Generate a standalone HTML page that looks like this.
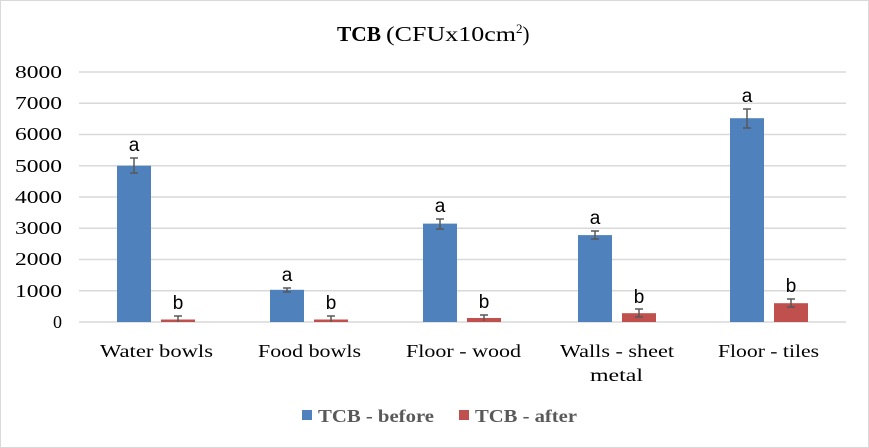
<!DOCTYPE html>
<html><head><style>body{margin:0;background:#fff}svg{display:block}</style></head><body>
<svg width="869" height="448" xmlns="http://www.w3.org/2000/svg">
<rect x="0.5" y="0.5" width="868" height="447" fill="#fff" stroke="#d9d9d9"/>
<text x="337" y="41" font-family="Liberation Serif, serif" font-size="21" fill="#000"><tspan font-weight="bold" textLength="44" lengthAdjust="spacingAndGlyphs">TCB</tspan><tspan x="386" textLength="130" lengthAdjust="spacingAndGlyphs">(CFUx10cm</tspan><tspan font-size="13" dy="-8">2</tspan><tspan dy="8">)</tspan></text>
<g stroke="#d9d9d9" stroke-width="1.5">
<line x1="79" x2="846" y1="72" y2="72"/><line x1="79" x2="846" y1="103.25" y2="103.25"/><line x1="79" x2="846" y1="134.5" y2="134.5"/><line x1="79" x2="846" y1="165.75" y2="165.75"/><line x1="79" x2="846" y1="197" y2="197"/><line x1="79" x2="846" y1="228.25" y2="228.25"/><line x1="79" x2="846" y1="259.5" y2="259.5"/><line x1="79" x2="846" y1="290.75" y2="290.75"/><line x1="79" x2="846" y1="322" y2="322"/>
</g>
<g font-family="Liberation Serif, serif" font-size="18" fill="#000" text-anchor="end">
<text x="62" y="78" textLength="47" lengthAdjust="spacingAndGlyphs">8000</text><text x="62" y="109" textLength="47" lengthAdjust="spacingAndGlyphs">7000</text><text x="62" y="140" textLength="47" lengthAdjust="spacingAndGlyphs">6000</text><text x="62" y="172" textLength="47" lengthAdjust="spacingAndGlyphs">5000</text><text x="62" y="203" textLength="47" lengthAdjust="spacingAndGlyphs">4000</text><text x="62" y="234" textLength="47" lengthAdjust="spacingAndGlyphs">3000</text><text x="62" y="265" textLength="47" lengthAdjust="spacingAndGlyphs">2000</text><text x="62" y="297" textLength="47" lengthAdjust="spacingAndGlyphs">1000</text><text x="62" y="328">0</text>
</g>
<g fill="#4f81bd">
<rect x="117" y="165.75" width="34" height="156.25"/>
<rect x="270" y="289.8" width="34" height="32.2"/>
<rect x="423" y="223.6" width="34" height="98.4"/>
<rect x="578" y="235.1" width="34" height="86.9"/>
<rect x="730" y="118.2" width="34" height="203.8"/>
</g>
<g fill="#c0504d">
<rect x="161" y="319.5" width="34" height="2.5"/>
<rect x="314" y="319.5" width="34" height="2.5"/>
<rect x="467" y="318" width="34" height="4"/>
<rect x="622" y="313.2" width="34" height="8.8"/>
<rect x="774" y="303.2" width="34" height="18.8"/>
</g>
<g stroke="#595959" stroke-width="1.5" fill="none">
<path d="M134 158v15M130 158h8M130 173h8"/>
<path d="M287 288v4M283 288h8M283 292h8"/>
<path d="M440 219v10M436 219h8M436 229h8"/>
<path d="M595 231v8M591 231h8M591 239h8"/>
<path d="M747 109v19M743 109h8M743 128h8"/>
<path d="M178 316v6M174 316h8"/>
<path d="M331 316v6M327 316h8"/>
<path d="M484 315v6M480 315h8"/>
<path d="M639 309v8M635 309h8M635 317h8"/>
<path d="M791 299v8M787 299h8M787 307h8"/>
</g>
<g font-family="Liberation Sans, sans-serif" font-size="19" fill="#000" text-anchor="middle">
<text x="134" y="151">a</text><text x="287" y="281">a</text><text x="440" y="212">a</text><text x="595" y="224">a</text><text x="747" y="102">a</text>
<text x="178" y="309">b</text><text x="331" y="309">b</text><text x="484" y="308">b</text><text x="639" y="303">b</text><text x="791" y="292">b</text>
</g>
<g font-family="Liberation Serif, serif" font-size="18" fill="#000">
<text x="100" y="357" textLength="113" lengthAdjust="spacingAndGlyphs">Water bowls</text>
<text x="258" y="357" textLength="103" lengthAdjust="spacingAndGlyphs">Food bowls</text>
<text x="406" y="357" textLength="115" lengthAdjust="spacingAndGlyphs">Floor - wood</text>
<text x="560" y="357" textLength="114" lengthAdjust="spacingAndGlyphs">Walls - sheet</text>
<text x="590" y="381" textLength="53" lengthAdjust="spacingAndGlyphs">metal</text>
<text x="718" y="357" textLength="101" lengthAdjust="spacingAndGlyphs">Floor - tiles</text>
</g>
<rect x="302" y="410" width="10" height="10" fill="#4f81bd"/>
<rect x="459" y="410" width="10" height="10" fill="#c0504d"/>
<g font-family="Liberation Serif, serif" font-size="18" font-weight="bold" fill="#595959">
<text x="318" y="422" textLength="116" lengthAdjust="spacingAndGlyphs">TCB - before</text><text x="475" y="422" textLength="102" lengthAdjust="spacingAndGlyphs">TCB - after</text>
</g>
</svg>
</body></html>
